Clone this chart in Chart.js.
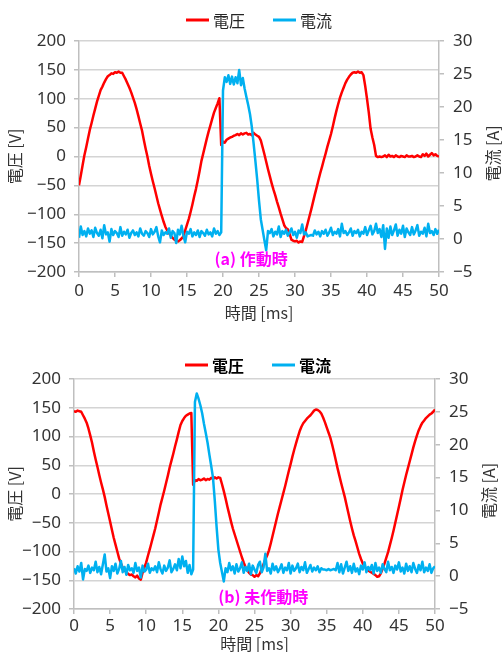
<!DOCTYPE html>
<html>
<head>
<meta charset="utf-8">
<script src="https://cdn.jsdelivr.net/npm/chart.js@4.4.1/dist/chart.umd.min.js"></script>
<style>
  html, body { margin: 0; padding: 0; background: #fff; overflow: hidden; }
  #boxA { position: absolute; left: 0; top: 0; }
  #boxB { position: absolute; left: 0; top: 338px; }
</style>
</head>
<body>
<div id="boxA"><canvas id="chartA" width="503" height="330"></canvas></div>
<div id="boxB"><canvas id="chartB" width="503" height="316"></canvas></div>
<script>
// sampling step of the recorder [ms], 0 .. 50 ms
const STEP_MS = 0.25;

// (a) 作動時 : voltage [V]
const voltA = [
  -50, -33, -15, 2, 16, 31, 46, 58, 71, 83,
  95, 105, 115, 121, 128, 134, 139, 141, 144, 143,
  146, 145, 147, 145, 145, 139, 133, 126, 119, 111,
  102, 93, 82, 70, 57, 45, 29, 14, 0, -16,
  -30, -43, -55, -68, -81, -92, -103, -113, -122, -128,
  -133, -137, -141, -144, -146, -147, -145, -142, -138, -128,
  -118, -108, -96, -83, -69, -56, -41, -25, -8, 5,
  18, 31, 43, 54, 65, 76, 84, 92, 101, 20,
  26, 24, 29, 31, 33, 34, 36, 37, 39, 37,
  40, 38, 40, 41, 38, 39, 37, 41, 38, 36,
  34, 28, 16, 4, -9, -22, -34, -46, -57, -67,
  -78, -88, -99, -109, -119, -124, -126, -134, -144, -146,
  -147, -146, -149, -147, -148, -138, -128, -116, -104, -92,
  -79, -66, -54, -41, -29, -18, -6, 5, 17, 28,
  39, 52, 66, 79, 91, 102, 111, 119, 127, 133,
  138, 142, 145, 146, 145, 147, 145, 146, 141, 122,
  100, 76, 48, 33, 20, 1, -1, 0, -1, 0,
  2, -1, 3, 0, 1, -1, 2, 0, -1, 1,
  0, -1, 2, 0, 0, 1, -1, 0, 2, 0,
  -1, 4, 1, 5, 0, 3, 6, 2, 4, 1,
  0
];

// (a) 作動時 : current [A]
const ampA = [
  0.2, 1.9, 0.6, 1.2, 0.4, 1.6, 0.8, 1.3, 0.3, 1.7,
  0.9, 0.5, 1.4, 0.1, 2.1, 0.7, 1.0, -0.4, 1.5, 0.6,
  1.2, 0.9, 0.3, 1.8, 0.5, 1.1, 0.7, 1.4, 0.2, 0.9,
  1.3, 0.6, 1.0, 0.4, 1.6, 0.8, 0.5, 1.2, 0.9, 0.3,
  1.5, 0.7, 1.1, 1.8, 0.4, -0.5, 1.3, 0.6, 1.0, 0.8,
  1.6, 0.2, 1.2, 0.9, -0.6, 1.4, 0.7, 2.0, 0.5, -0.5,
  1.1, 0.8, 1.5, 0.4, 1.0, 0.6, 1.3, 0.3, 1.2, 0.9,
  0.5, 1.4, 0.7, 1.0, 0.4, 1.6, 0.8, 1.2, 0.6, 1.0,
  22.5, 24.5, 23.8, 24.8, 23.5, 24.6, 23.4, 24.5, 23.6, 25.6,
  23.3, 24.4, 22.8, 21.5, 20.3, 18.9, 17.0, 14.5, 11.8, 9.0,
  5.8, 3.0, 1.4, -0.2, -1.7, 1.2, 0.9, 1.5, 0.4, 1.1,
  0.7, 1.9, 0.3, 1.2, 0.8, 1.4, 0.5, 1.0, 1.6, 0.6,
  1.1, 0.2, 1.3, 0.9, 2.2, 0.7, 1.0, 0.4, 0.5, 0.6,
  0.5, 1.3, 0.7, 1.1, 0.4, 1.2, 0.8, 1.4, 0.5, 1.0,
  1.7, 0.6, 1.1, 0.8, 1.5, 0.4, 2.3, 0.9, 1.2, 0.6,
  1.0, 1.6, 0.5, 1.2, 0.9, 1.4, 0.4, 1.1, 0.8, 1.8,
  0.6, 1.3, 2.0, 0.7, 1.2, 2.3, 0.9, 1.5, 0.3, 2.1,
  -1.5, 1.6, 0.2, 1.9, 0.6, 1.3, 2.2, 0.5, 1.4, 0.8,
  2.0, 0.3, 1.6, 1.0, 0.6, 1.8, 0.7, 1.3, 2.1, 0.5,
  1.1, 0.8, 1.7, 0.4, 2.3, 0.9, 1.2, 0.6, 1.5, 0.8,
  1.4
];

// (b) 未作動時 : voltage [V]
const voltB = [
  144, 143, 145, 144, 143, 137, 131, 124, 114, 102,
  89, 74, 60, 47, 33, 20, 8, -5, -20, -34,
  -48, -62, -76, -88, -100, -112, -121, -128, -133, -136,
  -139, -141, -140, -143, -145, -142, -147, -149, -137, -128,
  -119, -107, -96, -84, -72, -60, -46, -32, -18, -6,
  6, 19, 32, 46, 58, 70, 83, 95, 108, 120,
  127, 132, 136, 138, 140, 141, 16, 24, 23, 26,
  24, 25, 27, 24, 26, 25, 28, 26, 29, 27,
  29, 28, 17, 5, -8, -22, -35, -48, -60, -70,
  -80, -90, -100, -110, -119, -127, -133, -137, -140, -141,
  -144, -141, -143, -138, -130, -122, -114, -107, -98, -86,
  -73, -60, -47, -34, -22, -10, 2, 14, 27, 40,
  52, 65, 77, 88, 99, 109, 117, 123, 127, 131,
  134, 137, 141, 145, 147, 146, 144, 140, 133, 125,
  116, 107, 98, 86, 73, 59, 45, 32, 19, 7,
  -5, -19, -33, -47, -60, -72, -82, -93, -104, -113,
  -121, -126, -130, -133, -135, -137, -139, -141, -144, -143,
  -138, -130, -121, -111, -101, -89, -77, -64, -50, -36,
  -22, -8, 7, 20, 33, 45, 57, 69, 81, 92,
  102, 111, 118, 124, 128, 132, 135, 138, 140, 143,
  147
];

// (b) 未作動時 : current [A]
const ampB = [
  1.2, 0.4, 1.5, 0.7, 2.0, -0.5, 1.1, 0.8, 1.6, 0.5,
  1.3, 0.9, 2.2, 0.6, 1.4, 0.3, 1.8, 3.3, 0.7, 1.2,
  -0.3, 1.5, 0.8, 1.9, 0.4, 1.1, 2.3, 0.6, 1.4, 0.2,
  1.7, 0.9, 1.2, 0.5, 2.0, 0.8, 1.3, -0.2, 1.6, 0.7,
  1.0, 1.9, 0.5, 1.2, 0.9, 1.5, 0.6, 2.1, 1.0, 0.4,
  1.6, 0.8, 1.3, 2.4, 0.6, 1.1, 1.8, 0.9, 2.6, 1.2,
  3.0, 1.5, 2.3, 0.5, 1.7, 0.3, 1.0, 26.5, 27.8, 27.0,
  26.0, 24.8, 23.2, 21.8, 20.3, 18.5, 16.8, 15.0, 11.5, 7.5,
  4.0, 2.0, 0.6, -0.8, 1.2, 0.6, 2.0, 0.9, 1.5, 0.4,
  1.8, 0.7, 1.2, 2.1, 0.5, 1.4, 0.8, 1.9, 0.3, 1.6,
  1.0, 0.5, 1.7, 2.2, 0.6, 1.3, 3.4, 0.8, 1.2, 0.4,
  1.9, 0.9, 1.5, 0.6, 1.1, 1.8, 0.5, 1.3, 0.9, 2.0,
  0.4, 1.6, 0.8, 1.2, 1.9, 0.6, 1.4, 0.9, 2.1, 0.5,
  1.1, 1.7, 0.7, 1.3, 0.9, 1.5, 0.6, 1.2, 1.0, 1.0,
  0.9, 1.1, 0.9, 1.0, 1.1, 0.9, 2.0, 0.6, 1.8, 0.4,
  1.3, 2.2, 0.8, 1.5, 0.5, 1.9, 0.7, 1.2, 0.3, 1.6,
  1.0, 2.1, 0.6, 1.4, 0.9, 1.7, 0.4, 2.0, 0.8, 1.3,
  0.5, 1.8, 1.1, 0.6, 2.2, 0.9, 1.4, 0.5, 1.6, 1.0,
  2.1, 0.7, 1.3, 0.4, 1.9, 0.8, 1.5, 0.6, 2.0, 1.1,
  0.5, 1.7, 0.9, 2.2, 0.6, 1.3, 0.8, 1.8, 0.5, 1.2,
  1.5
];

const RED = "#ff0000";
const BLUE = "#00b0f0";
const TEXT = "#333333";
const GRID = "#d4d4d4";
const AXIS = "#bfbfbf";
const JP = '"Noto Sans CJK JP", sans-serif';
const NUM = '"Liberation Sans Narrow", "Noto Sans", sans-serif';

const toPoints = (vals) => vals.map((v, i) => ({ x: i * STEP_MS, y: v }));
const minus = (v) => String(v).replace("-", "\u2212");

// legend, right axis title and the panel caption
const extras = {
  id: "extras",
  afterDraw(chart, args, o) {
    const { ctx, chartArea, scales } = chart;
    ctx.save();

    // legend (line + label), centred on o.legendX
    ctx.font = (o.legendBold ? "bold " : "") + "16px " + JP;
    ctx.textBaseline = "middle";
    ctx.textAlign = "left";
    const items = chart.data.datasets.map((ds) => ({
      text: ds.label, color: ds.borderColor, w: ctx.measureText(ds.label).width,
    }));
    const lineLen = 23, gap = 4, itemGap = 28;
    let total = 0;
    items.forEach((it, i) => { total += lineLen + gap + it.w + (i ? itemGap : 0); });
    let x = o.legendX - total / 2;
    items.forEach((it) => {
      ctx.strokeStyle = it.color;
      ctx.lineWidth = 3;
      ctx.beginPath();
      ctx.moveTo(x, o.legendY);
      ctx.lineTo(x + lineLen, o.legendY);
      ctx.stroke();
      ctx.fillStyle = o.legendColor;
      ctx.fillText(it.text, x + lineLen + gap, o.legendY + 1);
      x += lineLen + gap + it.w + itemGap;
    });

    // right axis title, read bottom to top like the left one
    ctx.font = "16px " + JP;
    ctx.fillStyle = TEXT;
    ctx.textAlign = "center";
    ctx.translate(o.rightTitleX, (chartArea.top + chartArea.bottom) / 2 - 3);
    ctx.rotate(-Math.PI / 2);
    ctx.fillText("電流 [A]", 0, 0);
    ctx.setTransform(1, 0, 0, 1, 0, 0);

    // caption inside the plot
    ctx.font = "bold 16px " + JP;
    ctx.fillStyle = "#ff00ff";
    ctx.fillText(o.caption, scales.x.getPixelForValue(o.captionAt[0]), scales.yV.getPixelForValue(o.captionAt[1]));
    ctx.restore();
  },
};

function buildChart(id, volt, amp, o) {
  const tickFont = { family: NUM, size: 17 };
  const titleFont = { family: JP, size: 16 };
  return new Chart(document.getElementById(id), {
    type: "line",
    data: {
      datasets: [
        { label: "電圧", data: toPoints(volt), yAxisID: "yV", borderColor: RED, borderWidth: 2.5, pointRadius: 0, borderJoinStyle: "round", order: 2 },
        { label: "電流", data: toPoints(amp), yAxisID: "yA", borderColor: BLUE, borderWidth: 2.5, pointRadius: 0, borderJoinStyle: "round", order: 1 },
      ],
    },
    options: {
      responsive: false,
      animation: false,
      events: [],
      layout: { padding: { top: 41, left: 0, right: 0, bottom: 0 } },
      plugins: {
        legend: { display: false },
        tooltip: { enabled: false },
        extras: o,
      },
      scales: {
        x: {
          type: "linear", min: 0, max: 50,
          ticks: { stepSize: 5, padding: o.xTickPad, font: tickFont, color: TEXT, maxRotation: 0 },
          grid: { drawOnChartArea: false, tickLength: 5, tickColor: AXIS, lineWidth: 1.5 },
          border: { color: AXIS, width: 1.5 },
          title: { display: true, text: o.xTitle, font: titleFont, color: TEXT, padding: { top: 0, bottom: o.xTitlePad } },
          afterFit: (s) => { s.height = o.xHeight; },
        },
        yV: {
          position: "left", min: -200, max: 200,
          ticks: { stepSize: 50, padding: 8, font: tickFont, color: TEXT, callback: minus },
          grid: { color: GRID, lineWidth: 1.5, tickLength: 5, tickColor: AXIS },
          border: { color: AXIS, width: 1.5 },
          title: { display: true, text: "電圧 [V]", font: titleFont, color: TEXT, padding: { top: 5, bottom: 0 } },
          afterFit: (s) => { s.width = o.leftW; },
        },
        yA: {
          position: "right", min: -5, max: 30,
          ticks: { stepSize: 5, padding: 9, font: tickFont, color: TEXT, callback: minus },
          grid: { drawOnChartArea: false, tickLength: 5, tickColor: AXIS, lineWidth: 1.5 },
          border: { color: AXIS, width: 1.5 },
          afterFit: (s) => { s.width = o.rightW; },
        },
      },
    },
    plugins: [extras],
  });
}

buildChart("chartA", voltA, ampA, {
  leftW: 79, rightW: 64, xHeight: 58, xTickPad: 4, xTitlePad: 7, xTitle: "時間 [ms]",
  legendX: 259, legendY: 20, legendBold: false, legendColor: "#262626",
  rightTitleX: 493, caption: "(a) 作動時", captionAt: [23.9, -178],
});

buildChart("chartB", voltB, ampB, {
  leftW: 74, rightW: 68, xHeight: 45, xTickPad: 2, xTitlePad: 0, xTitle: "時間 [ms]",
  legendX: 258, legendY: 27, legendBold: true, legendColor: "#000000",
  rightTitleX: 489, caption: "(b) 未作動時", captionAt: [26.2, -179],
});
</script>
</body>
</html>
